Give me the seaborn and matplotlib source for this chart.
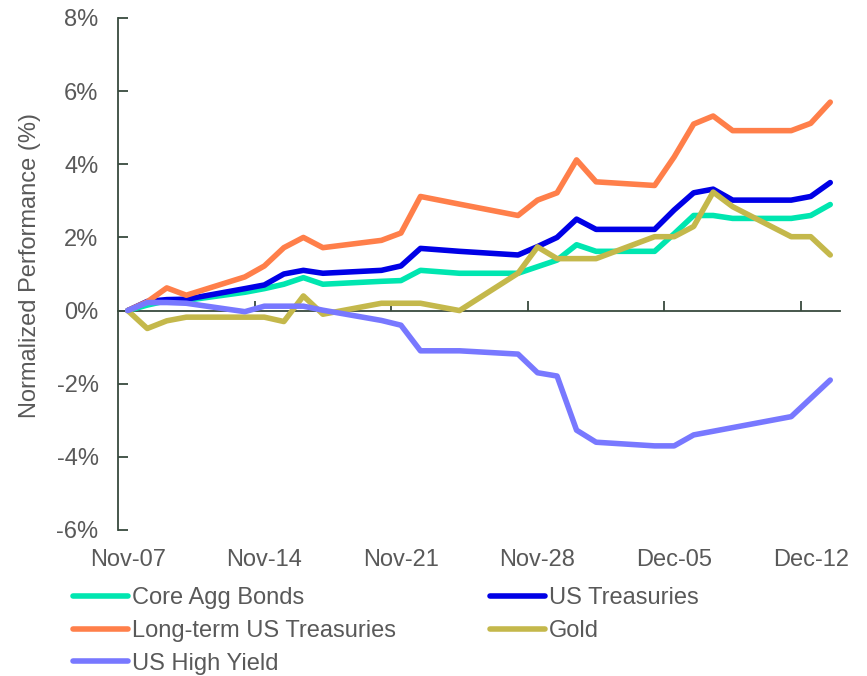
import os
import pandas as pd
import matplotlib
matplotlib.use("Agg")
import matplotlib.pyplot as plt
import matplotlib.dates as mdates
import seaborn as sns

os.environ['MPLCONFIGDIR'] = '/tmp'

# trading days shown on the chart
dates = ["2023-11-07", "2023-11-08", "2023-11-09", "2023-11-10",
         "2023-11-13", "2023-11-14", "2023-11-15", "2023-11-16", "2023-11-17",
         "2023-11-20", "2023-11-21", "2023-11-22", "2023-11-24",
         "2023-11-27", "2023-11-28", "2023-11-29", "2023-11-30", "2023-12-01",
         "2023-12-04", "2023-12-05", "2023-12-06", "2023-12-07", "2023-12-08",
         "2023-12-11", "2023-12-12", "2023-12-13"]

core_agg = [0, 0.15, 0.27, 0.28, 0.5, 0.6, 0.72, 0.9, 0.72, 0.8, 0.82, 1.1, 1.02,
            1.02, 1.2, 1.38, 1.8, 1.62, 1.62, 2.1, 2.6, 2.6, 2.52, 2.52, 2.6, 2.9]
us_treasuries = [0, 0.25, 0.3, 0.31, 0.6, 0.7, 1.0, 1.1, 1.02, 1.1, 1.22, 1.7, 1.62,
                 1.52, 1.75, 2.0, 2.5, 2.22, 2.22, 2.75, 3.22, 3.32, 3.02, 3.02, 3.12, 3.5]
long_term = [0, 0.24, 0.62, 0.42, 0.92, 1.22, 1.72, 2.0, 1.72, 1.92, 2.12, 3.12, 2.91,
             2.6, 3.02, 3.22, 4.12, 3.52, 3.42, 4.2, 5.1, 5.32, 4.92, 4.92, 5.12, 5.7]
gold = [0, -0.49, -0.28, -0.18, -0.18, -0.18, -0.3, 0.4, -0.1, 0.2, 0.2, 0.2, 0.0,
        1.02, 1.74, 1.42, 1.42, 1.42, 2.02, 2.02, 2.3, 3.24, 2.84, 2.02, 2.02, 1.52]
high_yield = [0, 0.22, 0.22, 0.2, -0.03, 0.12, 0.12, 0.12, 0.01, -0.27, -0.4, -1.1, -1.1,
              -1.19, -1.7, -1.79, -3.27, -3.6, -3.7, -3.7, -3.4, -3.3, -3.2, -2.9, -2.4, -1.9]

series_names = ["Core Agg Bonds", "US Treasuries", "Long-term US Treasuries", "Gold", "US High Yield"]
series_colors = ["#00E6B0", "#0000E6", "#FF7F4A", "#C4B84B", "#7878FF"]

xtick_dates = ["2023-11-07", "2023-11-14", "2023-11-21", "2023-11-28", "2023-12-05", "2023-12-12"]
xtick_labels = ["Nov-07", "Nov-14", "Nov-21", "Nov-28", "Dec-05", "Dec-12"]
ytick_values = [-6, -4, -2, 0, 2, 4, 6, 8]

df = pd.DataFrame({"date": pd.to_datetime(dates)})
for name, vals in zip(series_names, [core_agg, us_treasuries, long_term, gold, high_yield]):
    df[name] = vals
long_df = df.melt(id_vars="date", var_name="series", value_name="value")

sns.set_style("white")
plt.rcParams['font.family'] = ['Liberation Sans', 'DejaVu Sans']

text_color = "#595959"
axis_color = "#384A3E"
fs = 17

fig, ax = plt.subplots(figsize=(8.67, 6.76), dpi=100)
fig.subplots_adjust(left=118/867, right=840/867, top=1-18/676, bottom=1-530/676)

sns.lineplot(data=long_df, x="date", y="value", hue="series",
             hue_order=series_names, palette=dict(zip(series_names, series_colors)),
             linewidth=4, legend=False, ax=ax)
lines = ax.get_lines()[:len(series_names)]
for ln in lines:
    ln.set_solid_capstyle("round")
    ln.set_solid_joinstyle("round")

half_day = pd.Timedelta(hours=12)
ax.set_xlim(pd.Timestamp(dates[0]) - half_day, pd.Timestamp(dates[-1]) + half_day)
ax.set_ylim(-6, 8)

# x labels sit under the plot, the axis line itself sits at 0%
ax.set_xticks(pd.to_datetime(xtick_dates))
ax.set_xticklabels(xtick_labels)
ax.tick_params(axis="x", length=0, pad=14, labelsize=fs, labelcolor=text_color)
ax.spines["bottom"].set_visible(False)
ax.spines["top"].set_visible(False)
ax.spines["right"].set_visible(False)
ax.set_xlabel("")

sec = ax.secondary_xaxis(0, transform=ax.transData)
sec.set_xticks(mdates.date2num(pd.to_datetime(xtick_dates[1:]) - half_day))
sec.tick_params(direction="in", length=7, width=1.3, color=axis_color, labelbottom=False)
sec.spines["bottom"].set_color(axis_color)
sec.spines["bottom"].set_linewidth(1.3)

ax.set_yticks(ytick_values)
ax.set_yticklabels([f"{v}%" for v in ytick_values])
ax.tick_params(axis="y", direction="in", length=7, width=1.3, color=axis_color,
               pad=14, labelsize=fs, labelcolor=text_color, left=True)
ax.spines["left"].set_color(axis_color)
ax.spines["left"].set_linewidth(1.3)

ax.set_ylabel("Normalized Performance (%)", fontsize=fs, color=text_color)
ax.yaxis.set_label_coords(-0.107, 0.517)

# legend filled column-wise: left column then right column
legend_order = [0, 2, 4, 1, 3]
fig.legend([lines[i] for i in legend_order], [series_names[i] for i in legend_order],
           loc="upper left", bbox_to_anchor=(73/867, 1-587/676), ncol=2,
           frameon=False, fontsize=fs, labelcolor=text_color,
           handlelength=2.33, handletextpad=0.15, columnspacing=4.0,
           labelspacing=0.46, borderpad=0, borderaxespad=0)

plt.savefig("out.png", dpi=100)
plt.close()
